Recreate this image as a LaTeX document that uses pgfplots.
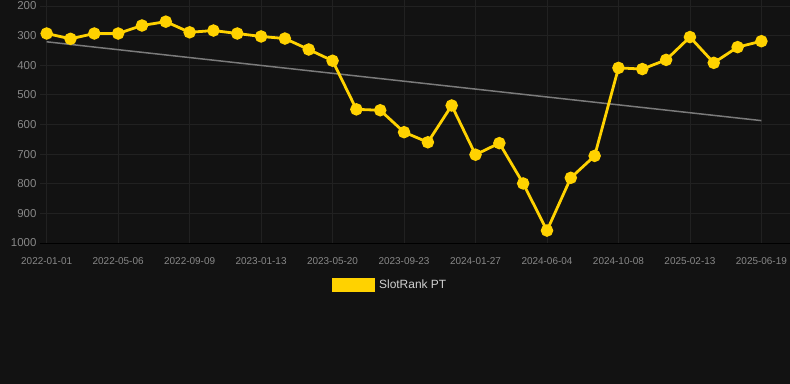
\documentclass[border=0pt]{standalone}
\usepackage{pgfplots}
\pgfplotsset{compat=1.18}
\usepackage{fontspec}
\setmainfont{Liberation Sans}
\pgfdeclarelayer{background}
\pgfsetlayers{background,main}
\definecolor{bg}{HTML}{121212}
\definecolor{gridc}{HTML}{212121}
\definecolor{baseline}{HTML}{2E2E2E}
\definecolor{ticklab}{HTML}{888888}
\definecolor{gold}{HTML}{FFD200}
\definecolor{trend}{HTML}{7A7A7A}
\definecolor{legtext}{HTML}{D0D0D0}
\begin{document}
\begin{tikzpicture}
\begin{axis}[
  scale only axis, width=750bp, height=243bp,
  xmin=-0.28, xmax=31.2, ymin=180, ymax=1000, y dir=reverse,
  axis line style={draw=none},
  tick style={draw=none},
  grid=major,
  major grid style={draw=gridc, line width=0.8bp},
  xtick={0,3,...,30},
  xticklabels={2022-01-01,2022-05-06,2022-09-09,2023-01-13,2023-05-20,2023-09-23,2024-01-27,2024-06-04,2024-10-08,2025-02-13,2025-06-19},
  ytick={200,300,...,1000},
  /pgf/number format/assume math mode=true,
  /pgf/number format/1000 sep={},
  xticklabel style={font=\fontsize{10}{12}\selectfont, text=ticklab, anchor=base, yshift=-21bp},
  yticklabel style={font=\fontsize{11.5}{13}\selectfont, text=ticklab},
  legend style={at={(0.4667,-0.1728)}, anchor=center, draw=none, fill=none,
    text=legtext, font=\fontsize{12}{14}\selectfont},
  clip=false,
]
\coordinate (bl) at (axis description cs:0,0);
\draw[baseline, line width=0.8bp] (axis description cs:0,0) -- (axis description cs:1,0);
\addplot[trend, line width=1.5bp, forget plot] coordinates {(0,321) (30,587)};
\addplot[gold, line width=2.8bp, mark=*, mark size=4.8bp,
  mark options={solid, fill=gold, draw=none},
  legend image code/.code={\fill[gold] (0bp,-5.5bp) rectangle (40bp,5.5bp);}]
  table[row sep=\\]{
  x y\\
  0 293\\ 1 311\\ 2 293\\ 3 293\\ 4 266\\ 5 253\\ 6 289\\ 7 283\\ 8 293\\ 9 303\\
  10 310\\ 11 347\\ 12 385\\ 13 549\\ 14 552\\ 15 626\\ 16 660\\ 17 536\\ 18 702\\ 19 663\\
  20 799\\ 21 958\\ 22 780\\ 23 706\\ 24 409\\ 25 413\\ 26 382\\ 27 305\\ 28 392\\ 29 339\\
  30 319\\
  };
\addlegendentry{\hspace{2.5bp}SlotRank PT}
\end{axis}
\begin{pgfonlayer}{background}
\fill[bg] ([shift={(-40bp,-141bp)}]bl) rectangle ([shift={(750bp,243bp)}]bl);
\end{pgfonlayer}
\pgfresetboundingbox
\path ([shift={(-40bp,-141bp)}]bl) rectangle ([shift={(750bp,243bp)}]bl);
\end{tikzpicture}
\end{document}
